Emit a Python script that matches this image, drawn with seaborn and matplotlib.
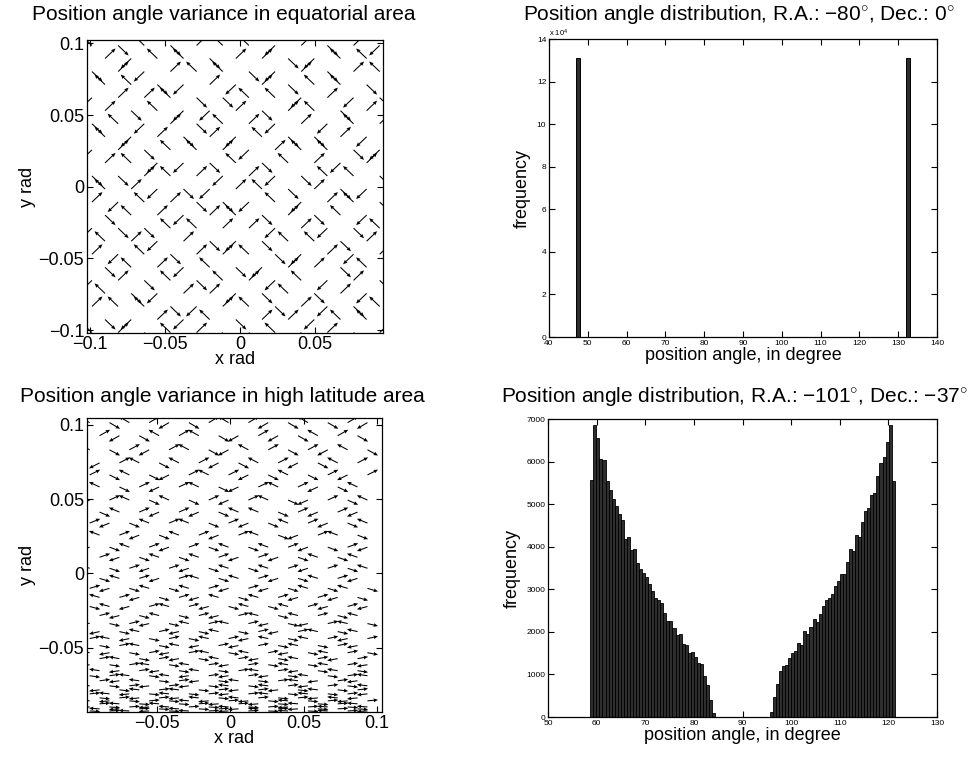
import numpy as np
import matplotlib
matplotlib.use("Agg")
import matplotlib.pyplot as plt
import seaborn as sns

# ---------------- data ----------------
# top-right histogram (R.A. -80, Dec 0): two spikes
eq_pa_centers = [47.4, 132.55]
eq_pa_counts = [131000, 131000]
eq_bin_edges = [46.85, 47.95, 132.0, 133.1]

# bottom-right histogram (R.A. -101, Dec -37): 100 bins between these limits
hl_bin_lo, hl_bin_hi = 58.7, 121.3
hl_counts = [
    5570, 6850, 6550, 6070, 6040, 5540, 5330, 5110, 4960, 4780,
    4620, 4190, 4230, 3920, 3940, 3620, 3470, 3390, 3290, 3130,
    2950, 2800, 2740, 2670, 2440, 2260, 2250, 2100, 1920, 1940,
    1720, 1690, 1510, 1530, 1410, 1270, 1240, 960, 750, 410,
    90, 0, 0, 0, 0, 0, 0, 0, 0, 0,
    0, 0, 0, 0, 0, 0, 0, 0, 0, 110,
    480, 770, 1080, 1190, 1220, 1380, 1500, 1540, 1750, 1700,
    2010, 1950, 2120, 2300, 2230, 2430, 2600, 2760, 2790, 2900,
    3070, 3190, 3370, 3370, 3650, 3940, 3890, 4280, 4230, 4570,
    4830, 4920, 5220, 5270, 5660, 5960, 6100, 6460, 6850, 5550,
]

# top-left field: direction codes on a checkerboard lattice
# 1 = NE, 2 = NW, 3 = SW, 4 = SE
eq_rows = [
    "242412231413", "13224114322", "413122431412", "22431314224",
    "311244223134", "14233141241", "423142131321", "23141324413",
    "314221312243", "12334242131", "441213134224", "21343124143",
    "132144323124", "42131241423", "344221131342", "21314342241",
    "132411243131", "42132431142", "314242132314", "24311342413",
    "122431241342", "43132411322", "214213423141",
]

# bottom-left field: row heights (rad), row tilt (deg), direction codes
hl_row_y = [0.1014, 0.0926, 0.0831, 0.0743, 0.0662, 0.0581, 0.0493, 0.0412,
            0.0338, 0.0257, 0.0176, 0.0108, 0.0034, -0.0034, -0.0101, -0.0162,
            -0.0223, -0.0284, -0.0338, -0.0392, -0.0439, -0.0486, -0.0534,
            -0.0574, -0.0615, -0.0655, -0.0689, -0.0723, -0.0757, -0.0784,
            -0.0811, -0.0838, -0.0858, -0.0878, -0.0899, -0.0912, -0.0926]
hl_row_tilt = [30, 29, 28, 27, 26, 25, 24, 23, 22, 21, 20, 19, 18, 17, 16.5, 16,
               15, 14, 13, 12.5, 12, 11, 10.5, 10, 9, 8.5, 8, 7.5, 7, 6.5, 6,
               5.5, 5, 4.5, 4, 3.5, 3]
hl_rows = [
    "242134121342413", "13421243134214", "241312432141324", "31242134213421",
    "142431213424131", "24131243121342", "312424131243142", "42131342241313",
    "134212413421342", "21342131243124", "342131424213413", "13424213134242",
    "241313424213142", "42131242134213", "134242131342424", "21341324213134",
    "423121342421313", "13424131242142", "241342121343124", "34213424131242",
    "123414213242131", "41242313142413", "234131242134214", "12413421342131",
    "341242131424213", "23134241213424", "412423131342412", "13241342412313",
    "241313424213142", "34212413134241", "123424131242413", "41313242141323",
    "234142313424131", "12424131342412", "341321424131242", "23142413213414",
    "412342131424213",
]

# ---------------- style ----------------
sns.set_theme(style="ticks")
plt.rcParams.update({
    "font.family": ["Liberation Sans", "DejaVu Sans"],
    "mathtext.fontset": "custom",
    "mathtext.rm": "Liberation Sans",
    "mathtext.it": "Liberation Sans:italic",
    "text.color": "black", "axes.labelcolor": "black",
    "xtick.direction": "in", "ytick.direction": "in",
    "xtick.top": True, "ytick.right": True,
    "axes.edgecolor": "black", "axes.linewidth": 0.9,
    "xtick.color": "black", "ytick.color": "black",
    "xtick.major.width": 0.8, "ytick.major.width": 0.8,
    "xtick.major.size": 4, "ytick.major.size": 4,
    "axes.unicode_minus": True,
})

W, H = 968, 762
fig = plt.figure(figsize=(W / 100, H / 100), dpi=100)


def px_axes(l, t, r, b):
    return fig.add_axes([l / W, 1 - b / H, (r - l) / W, (b - t) / H])


ax_tl = px_axes(87, 40, 383, 333)
ax_tr = px_axes(549, 39, 937, 337)
ax_bl = px_axes(87, 418, 382, 712)
ax_br = px_axes(548, 419, 937, 717)

code_dir = {"1": (1, 1), "2": (-1, 1), "3": (-1, -1), "4": (1, -1)}
qkw = dict(angles="xy", scale_units="xy", scale=1, color="black",
           width=0.0036, headwidth=3.6, headlength=4.2, headaxislength=3.8)

# ---- top-left quiver (equatorial) ----
sx, sy, a = 0.0087, 0.0091, 0.0070
X, Y, U, V = [], [], [], []
for j, row in enumerate(eq_rows):
    for k, c in enumerate(row):
        i = 2 * k + (j % 2)
        dx, dy = code_dir[c]
        X.append(-0.0985 + i * sx)
        Y.append(0.0985 - j * sy)
        U.append(dx * a)
        V.append(dy * a)
ax_tl.quiver(X, Y, U, V, **qkw)
ax_tl.set_xlim(-0.1018, 0.0951)
ax_tl.set_ylim(-0.1020, 0.1023)
ax_tl.set_xticks([-0.1, -0.05, 0, 0.05])
ax_tl.set_xticklabels(["\u22120.1", "\u22120.05", "0", "0.05"])
ax_tl.set_yticks([-0.1, -0.05, 0, 0.05, 0.1])
ax_tl.set_yticklabels(["\u22120.1", "\u22120.05", "0", "0.05", "0.1"])
ax_tl.tick_params(labelsize=13, pad=2)
ax_tl.set_xlabel("x rad", fontsize=13, labelpad=-1)
ax_tl.set_ylabel("y rad", fontsize=13, labelpad=2)
fig.text(224 / W, 1 - 14 / H, "Position angle variance in equatorial area",
         ha="center", va="center", fontsize=15)

# ---- bottom-left quiver (high latitude) ----
hx, ha_len = 0.0135, 0.0072
X, Y, U, V = [], [], [], []
for j, row in enumerate(hl_rows):
    t = np.deg2rad(hl_row_tilt[j])
    for k, c in enumerate(row):
        dx, dy = code_dir[c]
        X.append(-0.0955 + (k + 0.5 * (j % 2)) * hx)
        Y.append(hl_row_y[j])
        U.append(dx * ha_len)
        V.append(dy * ha_len * np.tan(t))
ax_bl.quiver(X, Y, U, V, **qkw)
ax_bl.set_xlim(-0.0973, 0.1034)
ax_bl.set_ylim(-0.0933, 0.1045)
ax_bl.set_xticks([-0.05, 0, 0.05, 0.1])
ax_bl.set_xticklabels(["\u22120.05", "0", "0.05", "0.1"])
ax_bl.set_yticks([-0.05, 0, 0.05, 0.1])
ax_bl.set_yticklabels(["\u22120.05", "0", "0.05", "0.1"])
ax_bl.tick_params(labelsize=13, pad=2)
ax_bl.set_xlabel("x rad", fontsize=13, labelpad=-1)
ax_bl.set_ylabel("y rad", fontsize=13, labelpad=2)
fig.text(222 / W, 1 - 396 / H, "Position angle variance in high latitude area",
         ha="center", va="center", fontsize=15)

# ---- top-right histogram ----
sns.histplot(x=eq_pa_centers, weights=eq_pa_counts, bins=eq_bin_edges, ax=ax_tr,
             color="#2e2e2e", edgecolor="black", linewidth=0.7, alpha=1)
ax_tr.set_xlim(40, 140)
ax_tr.set_ylim(0, 140000)
ax_tr.set_xticks(range(40, 141, 10))
ax_tr.set_yticks(range(0, 140001, 20000))
ax_tr.set_yticklabels([str(v) for v in range(0, 15, 2)])
ax_tr.tick_params(labelsize=6, pad=2)
ax_tr.set_xlabel("position angle, in degree", fontsize=13, labelpad=0)
ax_tr.set_ylabel("frequency", fontsize=13, labelpad=4)
fig.text(549 / W, 1 - 33 / H, "x 10$^{4}$", ha="left", va="center", fontsize=5.5)
fig.text(739 / W, 1 - 14 / H,
         "Position angle distribution, R.A.: \u221280$^{\\circ}$, Dec.: 0$^{\\circ}$",
         ha="center", va="center", fontsize=15)

# ---- bottom-right histogram ----
n = len(hl_counts)
edges = np.linspace(hl_bin_lo, hl_bin_hi, n + 1)
centers = (0.5 * (edges[:-1] + edges[1:])).tolist()
sns.histplot(x=centers, weights=hl_counts, bins=edges.tolist(), ax=ax_br,
             color="#2e2e2e", edgecolor="black", linewidth=0.6, alpha=1)
ax_br.set_xlim(50, 130)
ax_br.set_ylim(0, 7000)
ax_br.set_xticks(range(50, 131, 10))
ax_br.set_yticks(range(0, 7001, 1000))
ax_br.tick_params(labelsize=6, pad=2)
ax_br.set_xlabel("position angle, in degree", fontsize=13, labelpad=0)
ax_br.set_ylabel("frequency", fontsize=13, labelpad=4)
fig.text(734 / W, 1 - 396 / H,
         "Position angle distribution, R.A.: \u2212101$^{\\circ}$, Dec.: \u221237$^{\\circ}$",
         ha="center", va="center", fontsize=15)

fig.savefig("out.png", dpi=100)
